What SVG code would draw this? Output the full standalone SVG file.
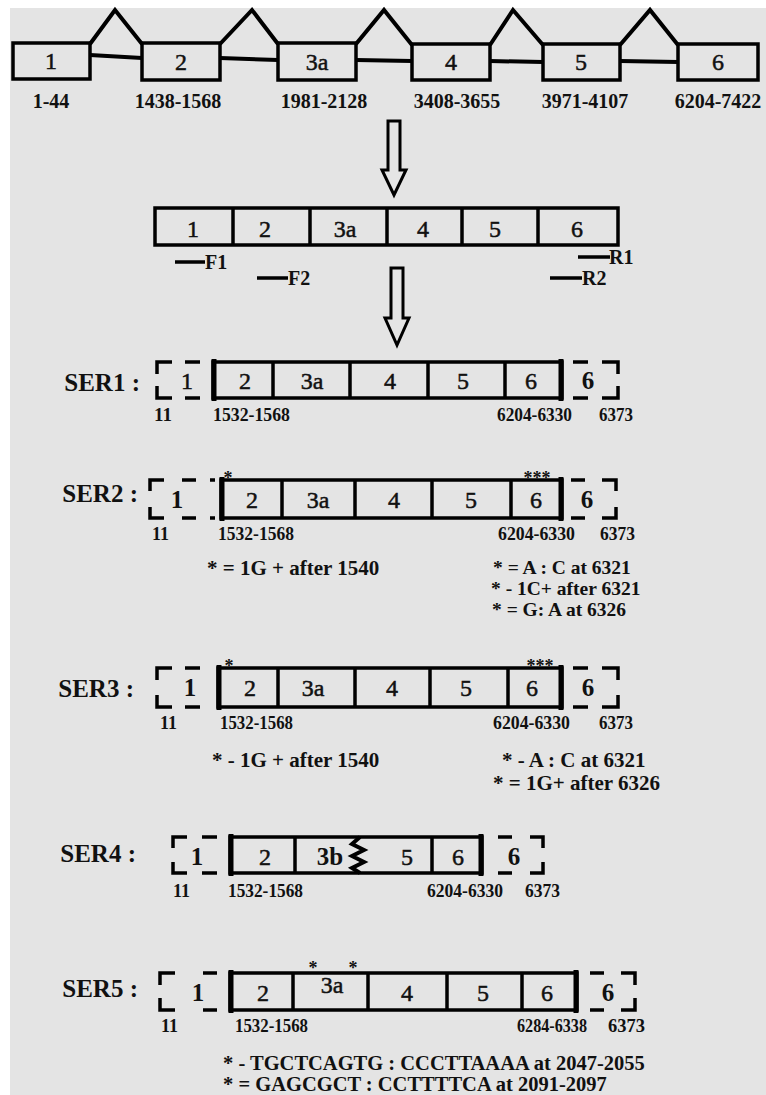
<svg xmlns="http://www.w3.org/2000/svg" width="766" height="1095" viewBox="0 0 766 1095">
<style>
.bx{fill:none;stroke:#000;stroke-width:3.5}
.ln{fill:none;stroke:#000;stroke-width:4;stroke-linejoin:miter}
.ds{fill:none;stroke:#000;stroke-width:3.5}
.end{stroke:#000;stroke-width:5}
.t{font-family:"Liberation Serif",serif;font-size:24px;text-anchor:middle;fill:#111;stroke:#111;stroke-width:0.5}
.tb{font-family:"Liberation Serif",serif;font-size:25px;font-weight:bold;text-anchor:middle;fill:#111}
.num{font-family:"Liberation Serif",serif;font-size:20px;font-weight:bold;text-anchor:middle;fill:#111}
.lbl{font-family:"Liberation Serif",serif;font-size:19px;font-weight:bold;fill:#111}
.leg{font-family:"Liberation Serif",serif;font-size:21px;font-weight:bold;fill:#111}
.legs{font-family:"Liberation Serif",serif;font-size:19.5px;font-weight:bold;fill:#111}
.ser{font-family:"Liberation Serif",serif;font-size:25px;font-weight:bold;fill:#111;text-anchor:end}
.st{font-family:"Liberation Serif",serif;font-size:18px;font-weight:bold;text-anchor:middle;fill:#111}
.pr{font-family:"Liberation Serif",serif;font-size:20px;font-weight:bold;fill:#111}
.arr{fill:#e5e5e5;stroke:#000;stroke-width:3;stroke-linejoin:miter}
</style>
<rect x="0" y="0" width="766" height="1095" fill="#fff"/>
<rect x="10" y="8" width="756" height="1087" fill="#e4e4e4"/>

<!-- top gene structure -->
<g id="exon1"><rect class="bx" x="13" y="43" width="77" height="36"/><text class="t" x="51" y="69">1</text><text class="num" x="51" y="108">1-44</text></g>
<g id="exon2"><rect class="bx" x="142" y="43" width="78" height="37"/><text class="t" x="181" y="70">2</text><text class="num" x="178" y="108">1438-1568</text></g>
<g id="exon3a"><rect class="bx" x="278" y="43" width="78" height="37"/><text class="t" x="317" y="70">3a</text><text class="num" x="324" y="108">1981-2128</text></g>
<g id="exon4"><rect class="bx" x="412" y="44" width="78" height="36"/><text class="t" x="451" y="70">4</text><text class="num" x="457" y="108">3408-3655</text></g>
<g id="exon5"><rect class="bx" x="543" y="44" width="77" height="36"/><text class="t" x="581" y="70">5</text><text class="num" x="585" y="108">3971-4107</text></g>
<g id="exon6"><rect class="bx" x="678" y="44" width="80" height="36"/><text class="t" x="718" y="70">6</text><text class="num" x="718" y="108">6204-7422</text></g>

<g id="connectors">
<polyline class="ln" points="90,44 115,10 142,44"/>
<polyline class="ln" points="220,44 252,10 278,44"/>
<polyline class="ln" points="356,44 384,10 412,45"/>
<polyline class="ln" points="490,45 513,10 543,45"/>
<polyline class="ln" points="620,45 650,10 678,45"/>
<line class="ln" x1="90" y1="55" x2="142" y2="58"/>
<line class="ln" x1="220" y1="58" x2="278" y2="60"/>
<line class="ln" x1="356" y1="60" x2="412" y2="61"/>
<line class="ln" x1="490" y1="61" x2="543" y2="62"/>
<line class="ln" x1="620" y1="61" x2="678" y2="62"/>
<polygon class="arr" points="388,121 400,121 400,170 406,170 394,195 382,170 388,170"/>
<polygon class="arr" points="391,268 403,268 403,318 409,318 397,345 385,318 391,318"/>
</g>

<!-- spliced transcript -->
<g id="transcript">
<rect class="bx" x="155" y="208" width="463" height="37"/>
<line class="bx" x1="233" y1="208" x2="233" y2="245"/>
<line class="bx" x1="310" y1="208" x2="310" y2="245"/>
<line class="bx" x1="387" y1="208" x2="387" y2="245"/>
<line class="bx" x1="462" y1="208" x2="462" y2="245"/>
<line class="bx" x1="538" y1="208" x2="538" y2="245"/>
<text class="t" x="193" y="237">1</text>
<text class="t" x="265" y="237">2</text>
<text class="t" x="345" y="237">3a</text>
<text class="t" x="423" y="237">4</text>
<text class="t" x="495" y="237">5</text>
<text class="t" x="577" y="237">6</text>
</g>
<g id="primers">
<line class="bx" x1="175" y1="262" x2="205" y2="262"/><text class="pr" x="205" y="269">F1</text>
<line class="bx" x1="257" y1="278" x2="288" y2="278"/><text class="pr" x="288" y="285">F2</text>
<line class="bx" x1="578" y1="257" x2="610" y2="257"/><text class="pr" x="609" y="264">R1</text>
<line class="bx" x1="550" y1="278" x2="582" y2="278"/><text class="pr" x="582" y="285">R2</text>
</g>

<!-- SER1 -->
<g id="ser1">
<text class="ser" x="140" y="391">SER1 :</text>
<path class="ds" d="M172,362 H157 V374 M157,386 V398 H172 M185,362 H200 M185,398 H200"/>
<text class="t" x="187" y="389">1</text>
<rect class="bx" x="213" y="362" width="349" height="36"/>
<line class="end" x1="214" y1="359" x2="214" y2="401"/><line class="end" x1="561" y1="359" x2="561" y2="401"/>
<line class="bx" x1="273" y1="362" x2="273" y2="398"/>
<line class="bx" x1="350" y1="362" x2="350" y2="398"/>
<line class="bx" x1="428" y1="362" x2="428" y2="398"/>
<line class="bx" x1="505" y1="362" x2="505" y2="398"/>
<text class="t" x="245" y="389">2</text><text class="t" x="312" y="389">3a</text><text class="t" x="390" y="389">4</text><text class="t" x="463" y="389">5</text><text class="t" x="531" y="389">6</text>
<path class="ds" d="M573,362 H588 M602,362 H618 V374 M618,386 V398 H602 M573,398 H588"/>
<text class="tb" x="588" y="389">6</text>
<text class="lbl" x="154" y="421" textLength="18" lengthAdjust="spacingAndGlyphs">11</text>
<text class="lbl" x="213" y="421" textLength="77" lengthAdjust="spacingAndGlyphs">1532-1568</text>
<text class="lbl" x="497" y="421" textLength="75" lengthAdjust="spacingAndGlyphs">6204-6330</text>
<text class="lbl" x="599" y="421" textLength="34" lengthAdjust="spacingAndGlyphs">6373</text>
</g>

<!-- SER2 -->
<g id="ser2">
<text class="ser" x="138" y="502">SER2 :</text>
<path class="ds" d="M164,480 H150 V491 M150,507 V518 H164 M182,480 H196 M182,518 H196 M210,480 H215 M210,518 H215"/>
<text class="tb" x="177" y="508">1</text>
<rect class="bx" x="221" y="480" width="341" height="38"/>
<line class="end" x1="222" y1="477" x2="222" y2="521"/><line class="end" x1="561" y1="477" x2="561" y2="521"/>
<line class="bx" x1="282" y1="480" x2="282" y2="518"/>
<line class="bx" x1="355" y1="480" x2="355" y2="518"/>
<line class="bx" x1="432" y1="480" x2="432" y2="518"/>
<line class="bx" x1="511" y1="480" x2="511" y2="518"/>
<text class="t" x="252" y="508">2</text><text class="t" x="318" y="508">3a</text><text class="t" x="394" y="508">4</text><text class="t" x="471" y="508">5</text><text class="t" x="536" y="508">6</text>
<text class="st" x="228" y="484">*</text><text class="st" x="537" y="484">***</text>
<path class="ds" d="M571,480 H585 M602,480 H616 V491 M616,507 V518 H602 M571,518 H585"/>
<text class="tb" x="587" y="508">6</text>
<text class="lbl" x="152" y="540" textLength="17" lengthAdjust="spacingAndGlyphs">11</text>
<text class="lbl" x="218" y="540" textLength="76" lengthAdjust="spacingAndGlyphs">1532-1568</text>
<text class="lbl" x="498" y="540" textLength="77" lengthAdjust="spacingAndGlyphs">6204-6330</text>
<text class="lbl" x="600" y="540" textLength="35" lengthAdjust="spacingAndGlyphs">6373</text>
<text class="leg" x="207" y="575">* = 1G + after 1540</text>
<text class="legs" x="493" y="574">* = A : C at 6321</text>
<text class="legs" x="491" y="595">* - 1C+ after 6321</text>
<text class="legs" x="492" y="616">* = G: A at 6326</text>
</g>

<!-- SER3 -->
<g id="ser3">
<text class="ser" x="134" y="697">SER3 :</text>
<path class="ds" d="M172,668 H157 V680 M157,695 V707 H172 M185,668 H200 M185,707 H200"/>
<text class="tb" x="190" y="696">1</text>
<rect class="bx" x="218" y="668" width="344" height="39"/>
<line class="end" x1="219" y1="665" x2="219" y2="710"/><line class="end" x1="561" y1="665" x2="561" y2="710"/>
<line class="bx" x1="278" y1="668" x2="278" y2="707"/>
<line class="bx" x1="355" y1="668" x2="355" y2="707"/>
<line class="bx" x1="430" y1="668" x2="430" y2="707"/>
<line class="bx" x1="508" y1="668" x2="508" y2="707"/>
<text class="t" x="250" y="696">2</text><text class="t" x="313" y="696">3a</text><text class="t" x="392" y="696">4</text><text class="t" x="466" y="696">5</text><text class="t" x="532" y="696">6</text>
<text class="st" x="229" y="672">*</text><text class="st" x="540" y="672">***</text>
<path class="ds" d="M573,668 H588 M602,668 H618 V680 M618,695 V707 H602 M573,707 H588"/>
<text class="tb" x="588" y="696">6</text>
<text class="lbl" x="160" y="729" textLength="17" lengthAdjust="spacingAndGlyphs">11</text>
<text class="lbl" x="220" y="729" textLength="73" lengthAdjust="spacingAndGlyphs">1532-1568</text>
<text class="lbl" x="493" y="729" textLength="77" lengthAdjust="spacingAndGlyphs">6204-6330</text>
<text class="lbl" x="599" y="729" textLength="34" lengthAdjust="spacingAndGlyphs">6373</text>
<text class="leg" x="212" y="767">* - 1G + after 1540</text>
<text class="leg" x="502" y="767">* - A : C at 6321</text>
<text class="leg" x="493" y="790">* = 1G+ after 6326</text>
</g>

<!-- SER4 -->
<g id="ser4">
<text class="ser" x="136" y="862">SER4 :</text>
<path class="ds" d="M187,837 H173 V848 M173,862 V873 H187 M202,837 H217 M202,873 H217"/>
<text class="tb" x="197" y="865">1</text>
<rect class="bx" x="230" y="837" width="252" height="36"/>
<line class="end" x1="231" y1="834" x2="231" y2="876"/><line class="end" x1="481" y1="834" x2="481" y2="876"/>
<line class="bx" x1="295" y1="837" x2="295" y2="873"/>
<line class="bx" x1="432" y1="837" x2="432" y2="873"/>
<polyline class="ln" points="360,837 352,844 364,850 352,856 364,862 352,868 360,873"/>
<text class="t" x="265" y="865">2</text><text class="tb" x="330" y="865">3b</text><text class="t" x="407" y="865">5</text><text class="t" x="458" y="865">6</text>
<path class="ds" d="M498,837 H512 M530,837 H543 V848 M543,862 V873 H530 M498,873 H512"/>
<text class="tb" x="514" y="865">6</text>
<text class="lbl" x="173" y="897" textLength="17" lengthAdjust="spacingAndGlyphs">11</text>
<text class="lbl" x="228" y="897" textLength="75" lengthAdjust="spacingAndGlyphs">1532-1568</text>
<text class="lbl" x="427" y="897" textLength="76" lengthAdjust="spacingAndGlyphs">6204-6330</text>
<text class="lbl" x="525" y="897" textLength="35" lengthAdjust="spacingAndGlyphs">6373</text>
</g>

<!-- SER5 -->
<g id="ser5">
<text class="ser" x="138" y="997">SER5 :</text>
<path class="ds" d="M175,973 H160 V985 M160,998 V1010 H175 M203,973 H217 M203,1010 H217"/>
<text class="tb" x="198" y="1001">1</text>
<rect class="bx" x="230" y="973" width="347" height="37"/>
<line class="end" x1="231" y1="970" x2="231" y2="1013"/><line class="end" x1="576" y1="970" x2="576" y2="1013"/>
<line class="bx" x1="293" y1="973" x2="293" y2="1010"/>
<line class="bx" x1="368" y1="973" x2="368" y2="1010"/>
<line class="bx" x1="447" y1="973" x2="447" y2="1010"/>
<line class="bx" x1="522" y1="973" x2="522" y2="1010"/>
<text class="t" x="263" y="1001">2</text><text class="t" x="332" y="993">3a</text><text class="t" x="407" y="1001">4</text><text class="t" x="483" y="1001">5</text><text class="t" x="547" y="1001">6</text>
<text class="st" x="313" y="974">*</text><text class="st" x="353" y="974">*</text>
<path class="ds" d="M590,973 H604 M621,973 H635 V985 M635,998 V1010 H621 M590,1010 H604"/>
<text class="tb" x="608" y="1001">6</text>
<text class="lbl" x="161" y="1032" textLength="17" lengthAdjust="spacingAndGlyphs">11</text>
<text class="lbl" x="235" y="1032" textLength="73" lengthAdjust="spacingAndGlyphs">1532-1568</text>
<text class="lbl" x="517" y="1032" textLength="70" lengthAdjust="spacingAndGlyphs">6284-6338</text>
<text class="lbl" x="608" y="1032" textLength="37" lengthAdjust="spacingAndGlyphs">6373</text>
<text class="leg" x="223" y="1070" style="font-size:20.5px">* - TGCTCAGTG : CCCTTAAAA at 2047-2055</text>
<text class="leg" x="223" y="1091" style="font-size:20.5px">* = GAGCGCT : CCTTTTCA at 2091-2097</text>
</g>
</svg>
